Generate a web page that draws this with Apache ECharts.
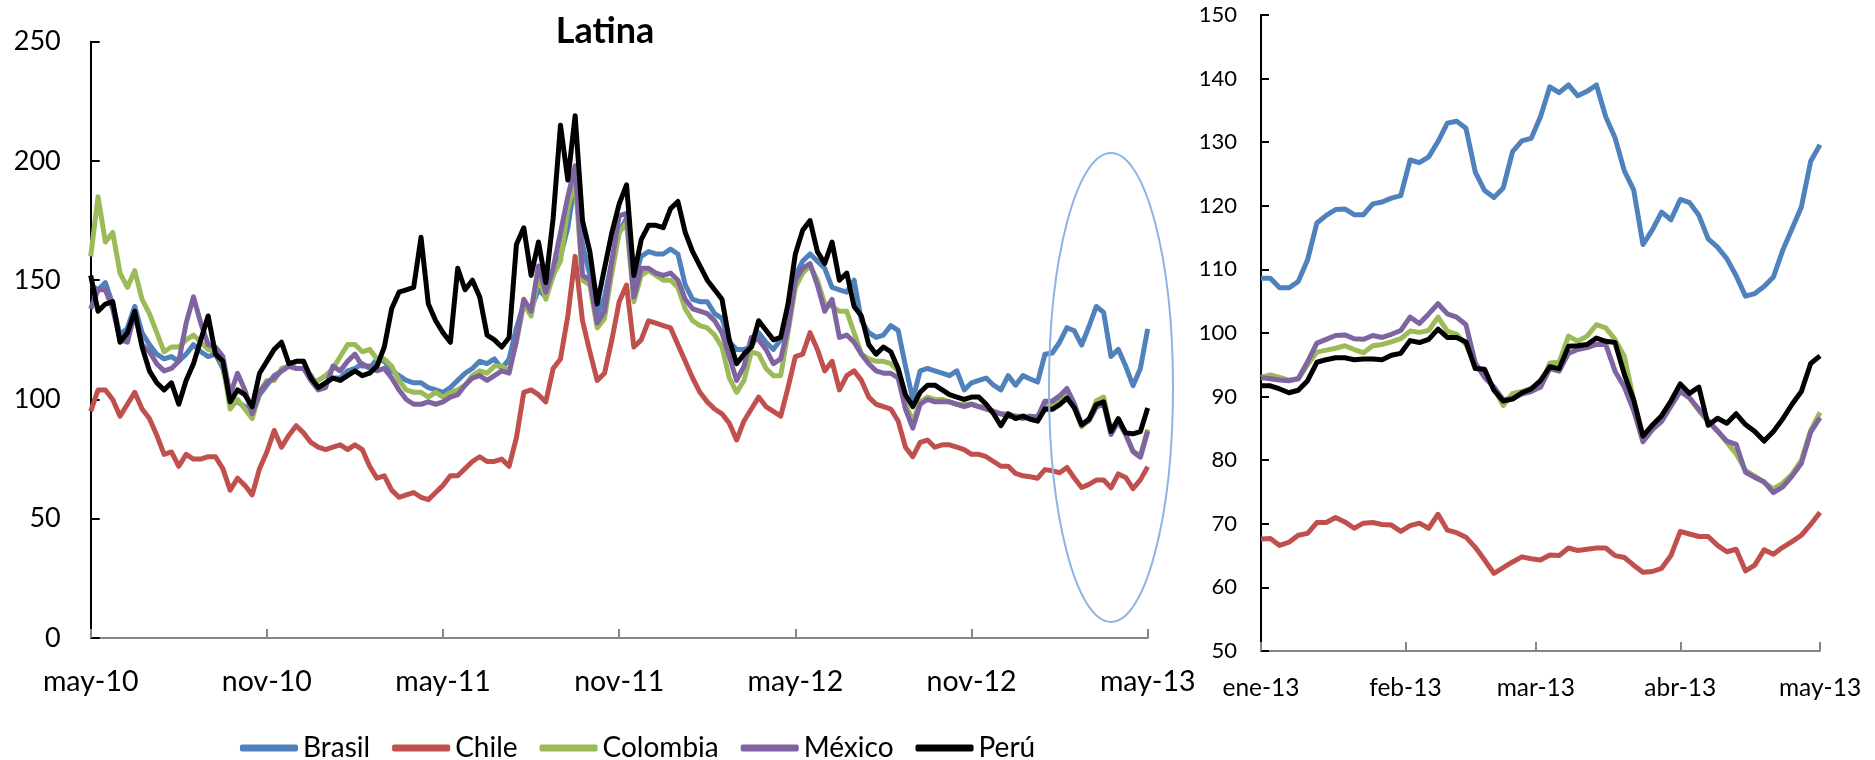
<!DOCTYPE html>
<html>
<head>
<meta charset="utf-8">
<script src="https://cdn.jsdelivr.net/npm/echarts@6/dist/echarts.min.js"></script>
<style>
html,body{margin:0;padding:0;background:#fff;}
#chart{width:1875px;height:760px;}
</style>
</head>
<body>
<div id="chart"></div>
<script>
// ---- Left chart: readings every quarter month, may-10 .. may-13 ----
const leftTickLabels = ['may-10','nov-10','may-11','nov-11','may-12','nov-12','may-13'];
const brasilL = [
  148,146,149,140,127,130,139,128,
  123,119,117,118,116,119,123,120,
  118,119,113,100,99,97,93,102,
  106,110,112,114,113,113,110,105,
  107,109,109,112,113,115,113,117,
  116,112,110,108,107,107,105,104,
  103,105,108,111,113,116,115,117,
  113,117,130,140,138,146,143,152,
  160,172,192,165,152,135,143,158,
  170,176,150,160,162,161,161,163,
  161,148,142,141,141,136,134,124,
  121,121,122,128,124,121,125,138,
  152,158,161,158,155,147,146,145,
  150,133,128,126,127,131,129,114,
  100,112,113,112,111,110,112,104,
  107,108,109,106,104,110,106,110,
  108.6,107.3,119,119.5,124,130.1,128.8,122.8,
  130.6,139,136.5,118,121,114,105.8,113,
  129.6];
const chileL = [
  95,104,104,100,93,98,103,96,
  92,85,77,78,72,77,75,75,
  76,76,71,62,67,64,60,71,
  78,87,80,85,89,86,82,80,
  79,80,81,79,81,79,72,67,
  68,62,59,60,61,59,58,61,
  64,68,68,71,74,76,74,74,
  75,72,84,103,104,102,99,113,
  117,135,160,133,120,108,111,125,
  141,148,122,125,133,132,131,130,
  123,116,109,103,99,96,94,90,
  83,91,96,101,97,95,93,105,
  118,119,128,121,112,116,104,110,
  112,108,101,98,97,96,91,80,
  76,82,83,80,81,81,80,79,
  77,77,76,74,72,72,69,68,
  67.6,67,70.6,70.1,69.3,71.5,67.1,63.1,
  64.4,66.2,66.2,63,68.8,67.3,62.6,66.3,
  71.8];
const colombiaL = [
  160,185,166,170,153,147,154,142,
  136,128,120,122,122,125,127,124,
  121,120,115,96,100,96,92,103,
  108,108,113,114,116,116,108,108,
  110,113,118,123,123,120,121,117,
  117,114,108,104,103,103,101,103,
  101,103,104,106,110,112,111,114,
  114,112,124,140,135,152,142,152,
  158,180,192,150,148,130,134,153,
  170,174,141,152,154,152,150,150,
  147,138,133,131,130,127,122,109,
  103,108,120,119,113,110,110,128,
  147,153,156,150,140,139,137,137,
  128,119,117,116,116,115,112,98,
  91,99,101,100,100,99,98,98,
  98,97,97,95,94,94,93,93,
  93,92.7,97.5,97.5,99.7,102.5,96.6,88.6,
  91.4,99.5,101,86.3,91,85.3,78.4,76.4,
  87.5];
const mexicoL = [
  138,146,146,138,125,124,136,123,
  120,115,112,113,116,132,143,132,
  123,122,118,102,111,104,94,103,
  107,109,112,114,113,113,108,104,
  105,114,112,116,119,114,114,112,
  113,109,104,100,98,98,99,98,
  99,101,102,106,109,110,108,110,
  112,111,125,142,137,156,145,155,
  170,185,198,152,150,132,137,158,
  177,178,143,155,155,153,152,153,
  150,142,138,137,136,133,128,118,
  108,114,126,125,121,115,117,130,
  150,155,157,148,137,142,126,127,
  124,119,115,112,111,111,109,96,
  88,98,100,99,99,99,98,97,
  98,97,96,95,94,93,93,92,
  93,92.6,99.3,99.3,101.5,104.6,98.3,89.5,
  91.1,96.8,98.2,85.3,90.8,85.4,78.1,75.8,
  86.7];
const peruL = [
  152,137,140,141,124,128,137,122,
  112,107,104,107,98,108,115,125,
  135,119,116,99,104,102,97,111,
  116,121,124,115,116,116,109,105,
  107,109,108,110,112,110,111,114,
  122,138,145,146,147,168,140,133,
  128,124,155,146,150,143,127,125,
  122,126,165,172,152,166,149,176,
  215,192,219,175,162,140,155,170,
  182,190,152,167,173,173,172,180,
  183,170,162,156,150,146,142,125,
  115,119,122,133,129,125,126,140,
  161,171,175,162,157,166,150,153,
  139,135,123,119,122,120,113,102,
  97,103,106,106,104,102,101,100,
  101,101,98,94,89,94,92,93,
  91.7,90.9,96,95.9,97.8,100.6,96.5,89.3,
  91.8,97.9,99,86.6,92,86,85.6,86.5,
  96.4];

// ---- Right chart: readings every 2 days, 1 ene-13 .. 1 may-13 ----
const rightTickLabels = ['ene-13','feb-13','mar-13','abr-13','may-13'];
const rightTickDays = [0,31,59,90,120];
const brasilR = [108.6,108.6,107.1,107.1,108.1,111.5,117.3,118.5,119.4,119.5,
  118.6,118.6,120.3,120.6,121.2,121.6,127.2,126.8,127.7,130.1,
  133.0,133.3,132.2,125.3,122.4,121.3,122.8,128.5,130.2,130.6,
  134,138.7,137.8,139,137.3,138,139,134,130.7,125.5,
  122.5,113.9,116.2,119,117.8,121,120.5,118.5,114.8,113.5,
  111.7,109,105.8,106.2,107.3,108.8,113,116.4,119.8,127,129.6];
const chileR = [67.6,67.7,66.6,67.1,68.2,68.5,70.2,70.2,71,70.3,
  69.3,70.1,70.2,69.9,69.8,68.8,69.7,70.1,69.3,71.5,
  69,68.6,67.9,66.3,64.3,62.2,63.1,64,64.8,64.5,
  64.3,65.1,65,66.2,65.8,66,66.2,66.2,65,64.7,
  63.5,62.4,62.5,63,65,68.8,68.4,68,68,66.6,
  65.6,66,62.6,63.5,65.9,65.2,66.3,67.2,68.2,69.9,71.8];
const colombiaR = [93,93.4,93,92.6,92.8,95,97,97.3,97.6,98,
  97.4,96.9,98,98.2,98.6,99.1,100.3,100.1,100.4,102.5,
  100.3,99.8,98.2,95,93.3,91.3,88.6,90.5,90.8,91.3,
  91.5,95.3,95.4,99.5,98.7,99.5,101.3,100.8,99,96.3,
  89.5,83.2,85.5,86.6,88.8,91,89.8,87.8,86,84.6,
  82.8,81,78.4,77.5,76.5,75.5,76.4,77.8,80,84.7,87.5];
const mexicoR = [93,92.8,92.6,92.5,92.8,95.5,98.4,99,99.6,99.7,
  99.1,99,99.6,99.3,99.8,100.4,102.5,101.5,103,104.6,
  103,102.5,101.3,95.3,93,91.5,89.5,89.7,90.4,90.8,
  91.5,94.4,94,96.8,97.4,97.7,98.2,98.2,94,91.5,
  87.8,82.9,84.8,86.1,88.5,90.8,89.8,88,86.2,84.6,
  83,82.5,78.1,77.3,76.6,74.9,75.8,77.5,79.5,84.4,86.7];
const peruR = [91.7,91.7,91.2,90.6,91,92.5,95.4,95.8,96.1,96.1,
  95.8,95.9,95.9,95.8,96.5,96.8,98.8,98.5,99,100.6,
  99.3,99.3,98.6,94.4,94.3,91,89.3,89.6,90.6,91.2,
  92.5,94.7,94.4,97.9,98,98.2,99.2,98.7,98.5,93.5,
  89.5,83.8,85.5,87,89.3,92,90.5,91.5,85.5,86.6,
  85.8,87.3,85.6,84.5,83,84.5,86.5,88.8,90.8,95.2,96.4];

const names = ['Brasil','Chile','Colombia','México','Perú'];
const colors = ['#4F81BD','#C0504D','#9BBB59','#8064A2','#000000'];
const leftData = [brasilL, chileL, colombiaL, mexicoL, peruL];
const rightData = [brasilR, chileR, colombiaR, mexicoR, peruR];

const FONT = 'Lato';
const pairsL = arr => arr.map((v, i) => [i * 0.25, v]);  // months since may-10
const pairsR = arr => arr.map((v, i) => [i * 2, v]);     // days since 1 ene-13

const series = [];
names.forEach((n, k) => {
  series.push({name: n, type: 'line', xAxisIndex: 0, yAxisIndex: 0, data: pairsL(leftData[k]),
    showSymbol: false, symbol: 'none', lineStyle: {width: 5, color: colors[k], join: 'round'}, itemStyle: {color: colors[k]}});
});
names.forEach((n, k) => {
  series.push({name: n, type: 'line', xAxisIndex: 1, yAxisIndex: 1, data: pairsR(rightData[k]),
    showSymbol: false, symbol: 'none', lineStyle: {width: 5, color: colors[k], join: 'round'}, itemStyle: {color: colors[k]}});
});

const yLine = {show: true, lineStyle: {color: '#000', width: 2}};
const xLine = {show: true, lineStyle: {color: '#868686', width: 2}};

const chart = echarts.init(document.getElementById('chart'));
chart.setOption({
  animation: false,
  backgroundColor: '#fff',
  color: colors,
  grid: [
    {left: 90.7, top: 41.7, width: 1057, height: 596.3},
    {left: 1261, top: 15, width: 559, height: 636}
  ],
  xAxis: [
    {type: 'value', gridIndex: 0, min: 0, max: 36, interval: 6,
     axisLine: xLine, splitLine: {show: false},
     axisTick: {inside: true, length: 9, lineStyle: {color: '#868686', width: 2}},
     axisLabel: {margin: 29, fontSize: 28.5, fontFamily: FONT, color: '#000',
       formatter: v => leftTickLabels[Math.round(v / 6)]}},
    {type: 'value', gridIndex: 1, min: 0, max: 120,
     axisLine: xLine, splitLine: {show: false},
     axisTick: {inside: true, length: 9, customValues: rightTickDays, lineStyle: {color: '#868686', width: 2}},
     axisLabel: {margin: 25, fontSize: 24.5, fontFamily: FONT, color: '#000', customValues: rightTickDays,
       formatter: v => rightTickLabels[rightTickDays.indexOf(v)]}}
  ],
  yAxis: [
    {type: 'value', gridIndex: 0, min: 0, max: 250, interval: 50,
     axisLine: yLine, splitLine: {show: false},
     axisTick: {show: true, inside: true, length: 9, lineStyle: {color: '#000', width: 2}},
     axisLabel: {margin: 30, fontSize: 27, fontFamily: FONT, color: '#000'}},
    {type: 'value', gridIndex: 1, min: 50, max: 150, interval: 10,
     axisLine: yLine, splitLine: {show: false},
     axisTick: {show: true, inside: true, length: 8, lineStyle: {color: '#000', width: 2}},
     axisLabel: {margin: 24, fontSize: 22, fontFamily: FONT, color: '#000'}}
  ],
  legend: {
    data: names, left: 235, top: 729, icon: 'roundRect', itemWidth: 58, itemHeight: 7, itemGap: 22,
    textStyle: {fontSize: 28, fontFamily: FONT, color: '#000'}
  },
  graphic: [
    {type: 'text', x: 605, y: 31, style: {text: 'Latina', font: 'bold 36px Lato', fill: '#000',
      align: 'center', verticalAlign: 'middle'}},
    {type: 'ellipse', shape: {cx: 1111, cy: 387.5, rx: 62, ry: 234.5}, silent: true,
     style: {fill: 'none', stroke: '#8DB4E2', lineWidth: 2}, z: 10}
  ],
  series: series
});
</script>
</body>
</html>
